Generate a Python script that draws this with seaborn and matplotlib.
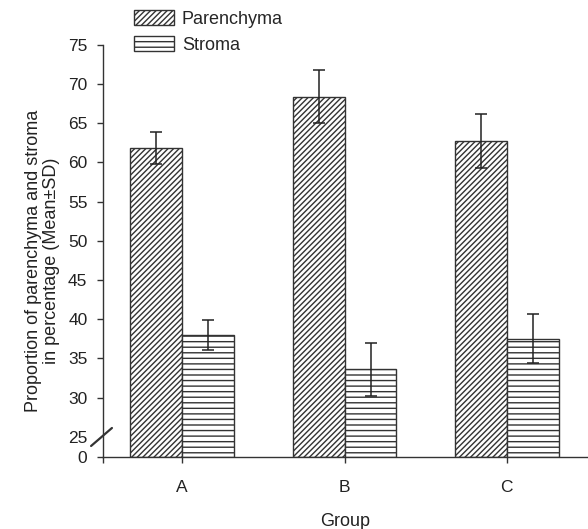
import numpy as np
import pandas as pd
import seaborn as sns
import matplotlib.pyplot as plt
import matplotlib.patches as mpatches

# values
groups = ["A", "B", "C"]
parenchyma_mean = [61.8, 68.4, 62.7]
parenchyma_sd = [2.05, 3.4, 3.45]
stroma_mean = [38.0, 33.6, 37.5]
stroma_sd = [1.9, 3.4, 3.15]
yticks = [0, 25, 30, 35, 40, 45, 50, 55, 60, 65, 70, 75]

data = pd.DataFrame({
    "Group": groups * 2,
    "Tissue": ["Parenchyma"] * 3 + ["Stroma"] * 3,
    "Mean": parenchyma_mean + stroma_mean,
    "SD": parenchyma_sd + stroma_sd,
})

sns.set_theme(style="ticks")
plt.rcParams["font.family"] = ["Liberation Sans", "DejaVu Sans"]
plt.rcParams["hatch.linewidth"] = 1.0
plt.rcParams["hatch.color"] = "#333333"

edge = "#333333"

# broken axis: 0..25 squeezed, linear above 25
knots_v = [0, 25, 100]
knots_u = [0, 2.55, 77.55]
def fwd(v):
    return np.interp(v, knots_v, knots_u)
def inv(u):
    return np.interp(u, knots_u, knots_v)

fig = plt.figure(figsize=(5.88, 5.29), dpi=100)
ax = fig.add_axes([0.1747, 0.1367, 0.8253, 0.7783])
ax.set_yscale("function", functions=(fwd, inv))

sns.barplot(data=data, x="Group", y="Mean", hue="Tissue", errorbar=None,
            width=0.64, palette=["white", "white"], edgecolor=edge,
            linewidth=1, legend=False, ax=ax)

hatches = ["//////", "---"]
for cont, h, sd in zip(ax.containers, hatches, [parenchyma_sd, stroma_sd]):
    xs, ys = [], []
    for bar in cont:
        bar.set_hatch(h)
        bar.set_edgecolor(edge)
        xs.append(bar.get_x() + bar.get_width() / 2)
        ys.append(bar.get_height())
    ax.errorbar(xs, ys, yerr=sd, fmt="none", ecolor="#222222",
                elinewidth=1.1, capsize=4, capthick=1.1)

ax.set_ylim(0, 75)
ax.set_xlim(-0.49, 2.5)
ax.set_yticks(yticks)
ax.set_yticklabels([str(t) for t in yticks])
ax.yaxis.get_major_ticks()[1].tick1line.set_visible(False)
ax.set_xticks([-0.49], minor=True)

sns.despine(ax=ax)
for s in ["left", "bottom"]:
    ax.spines[s].set_color("#333333")
    ax.spines[s].set_linewidth(1)
ax.tick_params(axis="y", which="both", length=4, width=1, color="#333333",
               pad=7, labelsize=12.5, labelcolor="#222222")
ax.tick_params(axis="x", which="both", length=4, width=1, color="#333333",
               pad=13, labelsize=12.5, labelcolor="#222222")

ax.set_xlabel("Group", fontsize=13, labelpad=13, color="#222222")
ax.set_ylabel("Proportion of parenchyma and stroma\nin percentage (Mean\u00b1SD)",
              fontsize=13, color="#222222", linespacing=1.05)
ax.yaxis.set_label_coords(-0.088, 0.476)

# axis break mark
ax.plot([-0.024, 0.019], [0.026, 0.0697], transform=ax.transAxes,
        color="#333333", lw=1.6, clip_on=False)

handles = [mpatches.Patch(facecolor="white", edgecolor=edge, hatch=h, linewidth=1)
           for h in hatches]
fig.legend(handles, ["Parenchyma", "Stroma"], loc="upper left",
           bbox_to_anchor=(134 / 588, 1 - 10 / 529), frameon=False,
           borderpad=0, borderaxespad=0, handlelength=2.2, handleheight=0.9,
           handletextpad=0.45, labelspacing=0.45, fontsize=13)

fig.savefig("out.png", dpi=100)
